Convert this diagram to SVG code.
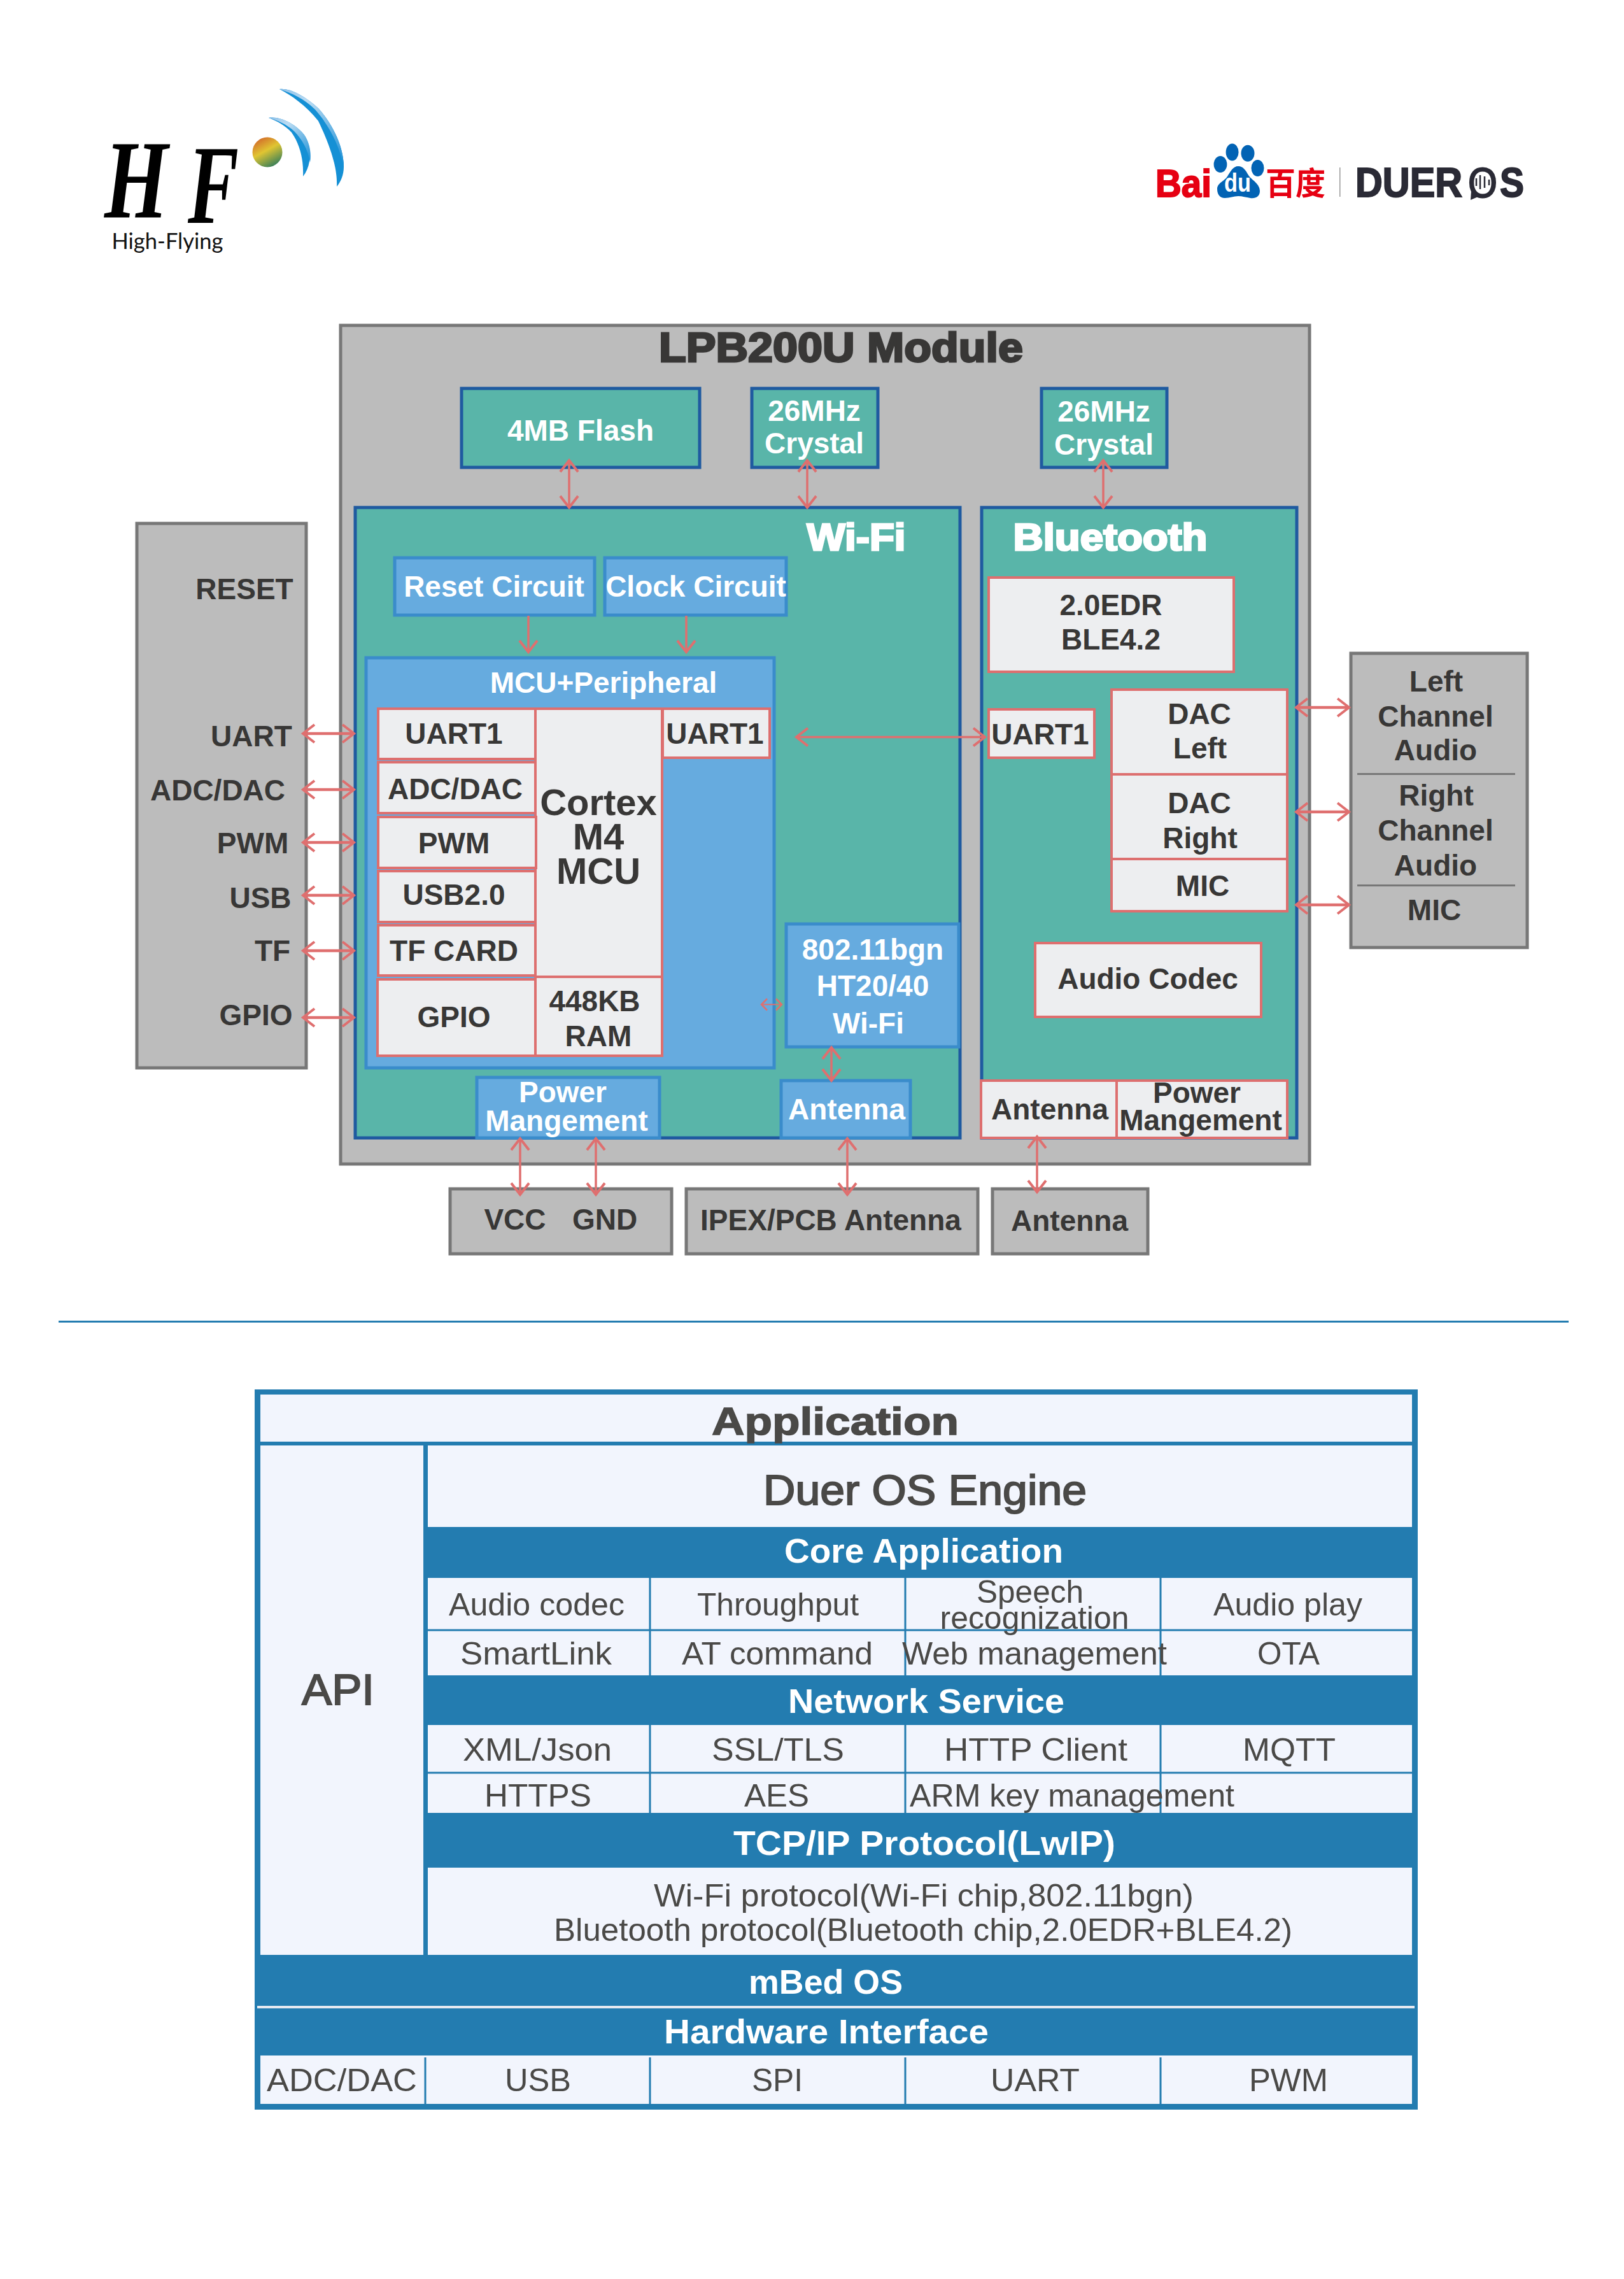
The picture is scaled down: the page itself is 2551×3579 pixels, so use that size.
<svg xmlns="http://www.w3.org/2000/svg" width="2551" height="3579" viewBox="0 0 2551 3579">
<style>
text{font-family:"Liberation Sans",Arial,sans-serif;text-anchor:middle}
.g{fill:#bcbcbc;stroke:#777;stroke-width:5}
.t{fill:#59b5a9;stroke:#1f5aa0;stroke-width:5}
.b{fill:#66abdf;stroke:#3a8ccb;stroke-width:5}
.w{fill:#edeef0;stroke:#dd6f6f;stroke-width:4}
.k{font-size:46px;font-weight:700;fill:#383736}
.f{font-size:46px;font-weight:700;fill:#fff}
.k2{font-size:58px;font-weight:700;fill:#383736}
.c{fill:#f2f5fd}
.r{font-size:50px;fill:#4a4947}
.h{font-size:54px;font-weight:700;fill:#fff}
.bar{fill:#237cb0}
.v{stroke:#237cb0;stroke-width:3;fill:none}
.a{fill:none;stroke:#df6f6f;stroke-width:3.5;marker-start:url(#m);marker-end:url(#m)}
.a1{fill:none;stroke:#df6f6f;stroke-width:3.5;marker-end:url(#m)}
.a2{fill:none;stroke:#df6f6f;stroke-width:2;marker-start:url(#s);marker-end:url(#s)}
.h5{stroke-width:4.5}
.logo{font-weight:700;font-size:65px;fill:#2a2a35;stroke:#2a2a35;stroke-width:2}
.hf{font-family:"Liberation Serif",serif;font-style:italic;font-weight:700;font-size:176px;fill:#000}
</style>
<defs>
<marker id="m" markerUnits="userSpaceOnUse" markerWidth="44" markerHeight="44" viewBox="-22 -22 44 44" refX="0" refY="0" orient="auto-start-reverse"><path d="M-18,-14 L0,0 L-18,14" fill="none" stroke="#df6f6f" stroke-width="4"/></marker>
<marker id="s" markerUnits="userSpaceOnUse" markerWidth="24" markerHeight="24" viewBox="-12 -12 24 24" refX="0" refY="0" orient="auto-start-reverse"><path d="M-9,-9 L0,0 L-9,9" fill="none" stroke="#df6f6f" stroke-width="2.5"/></marker>
<linearGradient id="ball" x1="0.2" y1="0" x2="0.75" y2="1"><stop offset="0" stop-color="#d2652a"/><stop offset="0.45" stop-color="#e0c532"/><stop offset="1" stop-color="#2c7a5c"/></linearGradient>
<linearGradient id="wave" x1="0" y1="0" x2="1" y2="1"><stop offset="0" stop-color="#8fc0e8"/><stop offset="0.3" stop-color="#bcdcf3"/><stop offset="1" stop-color="#1a8fd6"/></linearGradient>
</defs>
<rect width="2551" height="3579" fill="#fff"/>

<g id="logo-hf">
<text class="hf" x="214" y="342" textLength="100" lengthAdjust="spacingAndGlyphs">H</text>
<text class="hf" x="335" y="350" textLength="80" lengthAdjust="spacingAndGlyphs">F</text>
<circle cx="420" cy="239" r="23.5" fill="url(#ball)"/>
<path d="M439,140 C455,138 478,150 500,170 C520,192 540,228 540,262 C540,275 535,286 529,293 C530,270 524,240 500,190 C480,165 458,150 439,140Z" fill="#1590d5"/>
<path d="M439,140 C455,138 478,150 500,170 C520,192 540,228 540,262 C535,235 520,200 495,172 C478,155 458,146 439,140Z" fill="url(#wave)"/>
<path d="M422,185 C440,182 465,195 478,212 C490,230 490,260 476,277 C477,252 472,228 458,208 C448,197 435,190 422,185Z" fill="#1590d5"/>
<path d="M422,185 C440,182 465,195 478,212 C488,226 489,245 487,255 C484,235 474,218 462,206 C450,195 436,189 422,185Z" fill="url(#wave)"/>
<text x="263" y="391" style="font-family:Lato,sans-serif;font-size:34px;fill:#111" textLength="175" lengthAdjust="spacingAndGlyphs">High-Flying</text>
</g>

<g id="logo-baidu">
<text x="1859" y="309" style="font-size:62px;font-weight:700;fill:#e60012;stroke:#e60012;stroke-width:2" textLength="88" lengthAdjust="spacingAndGlyphs">Bai</text>
<ellipse cx="1917" cy="258" rx="10.4" ry="13" fill="#0263b4"/>
<ellipse cx="1935.600" cy="239" rx="10" ry="13.500" fill="#0263b4"/>
<ellipse cx="1960" cy="240.700" rx="10.500" ry="13" fill="#0263b4"/>
<ellipse cx="1975.500" cy="264" rx="10" ry="13" fill="#0263b4"/>
<path d="M1945,261 C1953,261 1957,268 1961,275 C1966,283 1979,288 1979,300 C1979,309 1972,312 1964,311 C1957,310 1952,308 1945,308 C1938,308 1932,311 1924,311 C1916,311 1912,305 1912,297 C1912,287 1923,285 1928,277 C1933,269 1937,261 1945,261Z" fill="#0263b4"/>
<text x="1944" y="301" style="font-size:40px;font-weight:700;fill:#fff" textLength="42" lengthAdjust="spacingAndGlyphs">du</text>
<text x="2035" y="306" style="font-family:'Noto Sans CJK SC',sans-serif;font-size:50px;font-weight:700;fill:#e60012" textLength="94" lengthAdjust="spacingAndGlyphs">百度</text>
<rect x="2104" y="263" width="1.500" height="46" fill="#999"/>
<text class="logo" x="2213" y="309" textLength="168" lengthAdjust="spacingAndGlyphs">DUER</text>
<text class="logo" x="2329" y="310" style="font-weight:400;font-size:66px" textLength="46" lengthAdjust="spacingAndGlyphs">O</text>
<text class="logo" x="2375" y="309" textLength="38" lengthAdjust="spacingAndGlyphs">S</text>
<path d="M2319,280v12M2325,275v22M2332,277v18M2339,282v9" stroke="#2a2a35" stroke-width="2.500" fill="none"/>
<path d="M2311,300 L2310,314 L2324,308Z" fill="#2a2a35"/>
</g>

<g id="pins-left"><rect class="g" x="215" y="822" width="266" height="855"/>
<text class="k" x="384" y="941">RESET</text><text class="k" x="395" y="1172">UART</text><text class="k" x="342" y="1257">ADC/DAC</text><text class="k" x="397" y="1340">PWM</text><text class="k" x="409" y="1426">USB</text><text class="k" x="428" y="1509">TF</text><text class="k" x="402" y="1610">GPIO</text></g>

<g id="module"><rect class="g" x="535" y="511" width="1522" height="1317"/>
<text class="k" x="1321" y="568" style="font-size:64px;stroke:#383736;stroke-width:3" textLength="572" lengthAdjust="spacingAndGlyphs">LPB200U Module</text></g>

<g id="flash"><rect class="t" x="725" y="610" width="374" height="124"/><text class="f" x="912" y="692">4MB Flash</text></g>
<g id="crystal-wifi"><rect class="t" x="1181" y="610" width="198" height="124"/><text class="f" x="1279" y="661">26MHz</text><text class="f" x="1279" y="712">Crystal</text></g>
<g id="crystal-bt"><rect class="t" x="1636" y="610" width="197" height="124"/><text class="f" x="1734" y="662">26MHz</text><text class="f" x="1734" y="714">Crystal</text></g>

<g id="wifi"><rect class="t" x="558" y="797" width="950" height="990"/><text class="f" x="1345" y="864" style="font-size:60px;stroke:#fff;stroke-width:3" textLength="155" lengthAdjust="spacingAndGlyphs">Wi-Fi</text></g>
<g id="bluetooth"><rect class="t" x="1542" y="797" width="495" height="990"/><text class="f" x="1744" y="864" style="font-size:60px;stroke:#fff;stroke-width:3" textLength="305" lengthAdjust="spacingAndGlyphs">Bluetooth</text></g>

<g id="reset-circuit"><rect class="b" x="620" y="876" width="314" height="90"/><text class="f" x="776" y="937">Reset Circuit</text></g>
<g id="clock-circuit"><rect class="b" x="950" y="876" width="285" height="90"/><text class="f" x="1093" y="937">Clock Circuit</text></g>

<g id="mcu"><rect class="b" x="575" y="1033" width="641" height="644"/><text class="f" x="948" y="1088">MCU+Peripheral</text></g>
<g id="cortex"><rect class="w" x="841" y="1113" width="199" height="421"/><text class="k2" x="940" y="1280">Cortex</text><text class="k2" x="940" y="1334">M4</text><text class="k2" x="940" y="1388">MCU</text></g>
<g id="ram"><rect class="w" x="841" y="1534" width="199" height="124"/><text class="k" x="934" y="1588">448KB</text><text class="k" x="940" y="1643">RAM</text></g>
<g id="uart1-l"><rect class="w" x="594" y="1113" width="247" height="79"/><text class="k" x="713" y="1168">UART1</text></g>
<g id="uart1-r"><rect class="w" x="1041" y="1113" width="168" height="77"/><text class="k" x="1123" y="1168">UART1</text></g>
<g id="adc"><rect class="w" x="594" y="1197" width="247" height="80"/><text class="k" x="715" y="1255">ADC/DAC</text></g>
<g id="pwm"><rect class="w" x="594" y="1283" width="248" height="80"/><text class="k" x="713" y="1340">PWM</text></g>
<g id="usb"><rect class="w" x="594" y="1368" width="247" height="80"/><text class="k" x="713" y="1421">USB2.0</text></g>
<g id="tf"><rect class="w" x="594" y="1453" width="247" height="79"/><text class="k" x="713" y="1509">TF CARD</text></g>
<g id="gpio"><rect class="w" x="593" y="1538" width="248" height="120"/><text class="k" x="713" y="1613">GPIO</text></g>

<g id="wifi-radio"><rect class="b" x="1235" y="1451" width="271" height="193"/><text class="f" x="1371" y="1507">802.11bgn</text><text class="f" x="1371" y="1564">HT20/40</text><text class="f" x="1364" y="1623">Wi-Fi</text></g>
<g id="wifi-power"><rect class="b" x="749" y="1692" width="287" height="95"/><text class="f" x="884" y="1731">Power</text><text class="f" x="890" y="1776">Mangement</text></g>
<g id="wifi-antenna"><rect class="b" x="1227" y="1697" width="203" height="90"/><text class="f" x="1330" y="1758">Antenna</text></g>

<g id="bt-core"><rect class="w" x="1553" y="907" width="385" height="148"/><text class="k" x="1745" y="966">2.0EDR</text><text class="k" x="1745" y="1020">BLE4.2</text></g>
<g id="bt-uart"><rect class="w" x="1553" y="1114" width="166" height="76"/><text class="k" x="1634" y="1169">UART1</text></g>
<g id="dac-left"><rect class="w" x="1746" y="1083" width="276" height="133"/><text class="k" x="1884" y="1137">DAC</text><text class="k" x="1885" y="1191">Left</text></g>
<g id="dac-right"><rect class="w" x="1746" y="1216" width="276" height="133"/><text class="k" x="1884" y="1277">DAC</text><text class="k" x="1885" y="1332">Right</text></g>
<g id="bt-mic"><rect class="w" x="1746" y="1349" width="276" height="82"/><text class="k" x="1889" y="1407">MIC</text></g>
<g id="codec"><rect class="w" x="1626" y="1481" width="355" height="116"/><text class="k" x="1803" y="1553">Audio Codec</text></g>
<g id="bt-antenna"><rect class="w" x="1541" y="1697" width="213" height="90"/><text class="k" x="1649" y="1758">Antenna</text></g>
<g id="bt-power"><rect class="w" x="1754" y="1697" width="268" height="90"/><text class="k" x="1880" y="1732">Power</text><text class="k" x="1886" y="1775">Mangement</text></g>

<g id="audio-out"><rect class="g" x="2122" y="1026" width="277" height="462"/>
<text class="k" x="2256" y="1086">Left</text><text class="k" x="2255" y="1141">Channel</text><text class="k" x="2255" y="1194">Audio</text>
<rect x="2132" y="1214" width="248" height="3" fill="#777"/>
<text class="k" x="2256" y="1265">Right</text><text class="k" x="2255" y="1320">Channel</text><text class="k" x="2255" y="1375">Audio</text>
<rect x="2132" y="1389" width="248" height="3" fill="#777"/>
<text class="k" x="2253" y="1445">MIC</text></g>

<g id="power-pins"><rect class="g" x="707" y="1867" width="348" height="102"/><text class="k" x="809" y="1931">VCC</text><text class="k" x="950" y="1931">GND</text></g>
<g id="ipex"><rect class="g" x="1078" y="1867" width="458" height="102"/><text class="k" x="1305" y="1932">IPEX/PCB Antenna</text></g>
<g id="antenna-ext"><rect class="g" x="1559" y="1867" width="244" height="102"/><text class="k" x="1680" y="1933">Antenna</text></g>

<g id="connectors">
<path class="a" d="M894,723V797"/><path class="a" d="M1268,723V797"/><path class="a" d="M1733,723V797"/>
<path class="a1" d="M830,967V1024"/><path class="a1" d="M1078,967V1024"/>
<path class="a h5" d="M476,1152H556"/><path class="a h5" d="M476,1240H556"/><path class="a h5" d="M476,1323H556"/><path class="a h5" d="M476,1406H556"/><path class="a h5" d="M476,1493H556"/><path class="a h5" d="M476,1598H556"/>
<path class="a" d="M1251,1157.500H1547"/>
<path class="a2" d="M1196,1577.500H1228"/>
<path class="a" d="M1306,1645V1697"/>
<path class="a" d="M817,1788V1876"/><path class="a" d="M936,1788V1876"/><path class="a" d="M1331,1788V1876"/><path class="a" d="M1629,1785V1872"/>
<path class="a h5" d="M2036,1111H2119"/><path class="a h5" d="M2036,1275H2119"/><path class="a h5" d="M2036,1421H2119"/>
</g>

<rect id="separator" x="92" y="2074" width="2372" height="3" fill="#237cb0"/>

<g id="stack">
<rect class="bar" x="400" y="2182" width="1827" height="1131"/>
<g id="application"><rect class="c" x="409" y="2190" width="1809" height="74"/><text x="1312" y="2253" class="r" style="font-size:62px;font-weight:700;stroke:#4a4947;stroke-width:1.500" textLength="388" lengthAdjust="spacingAndGlyphs">Application</text></g>
<g id="api"><rect class="c" x="409" y="2270" width="256" height="800"/><text x="531" y="2677" class="r" style="font-size:68px;font-weight:400;stroke:#4a4947;stroke-width:2" textLength="114" lengthAdjust="spacingAndGlyphs">API</text></g>
<g id="duer"><rect class="c" x="672" y="2270" width="1546" height="128"/><text x="1453" y="2363" class="r" style="font-size:66px;font-weight:400;stroke:#4a4947;stroke-width:2" textLength="508" lengthAdjust="spacingAndGlyphs">Duer OS Engine</text></g>
<text class="h" x="1451" y="2454" textLength="438" lengthAdjust="spacingAndGlyphs">Core Application</text>
<g id="core-cells"><rect class="c" x="672" y="2478" width="1546" height="153"/>
<path class="v" d="M672,2560H2218M1021,2478V2631M1422,2478V2631M1823,2478V2631"/>
<text class="r" x="843" y="2537" textLength="276" lengthAdjust="spacingAndGlyphs">Audio codec</text><text class="r" x="1222" y="2537" textLength="254" lengthAdjust="spacingAndGlyphs">Throughput</text><text class="r" x="1618" y="2517" textLength="168" lengthAdjust="spacingAndGlyphs">Speech</text><text class="r" x="1625" y="2558" textLength="297" lengthAdjust="spacingAndGlyphs">recognization</text><text class="r" x="2023" y="2537" textLength="234" lengthAdjust="spacingAndGlyphs">Audio play</text>
<text class="r" x="842" y="2614" textLength="238" lengthAdjust="spacingAndGlyphs">SmartLink</text><text class="r" x="1221" y="2614" textLength="300" lengthAdjust="spacingAndGlyphs">AT command</text><text class="r" x="1625" y="2614" textLength="416" lengthAdjust="spacingAndGlyphs">Web management</text><text class="r" x="2024" y="2614" textLength="98" lengthAdjust="spacingAndGlyphs">OTA</text></g>
<text class="h" x="1455" y="2690" textLength="434" lengthAdjust="spacingAndGlyphs">Network Service</text>
<g id="net-cells"><rect class="c" x="672" y="2709" width="1546" height="138"/>
<path class="v" d="M672,2784H2218M1021,2709V2847M1422,2709V2847M1823,2709V2847"/>
<text class="r" x="844" y="2765" textLength="234" lengthAdjust="spacingAndGlyphs">XML/Json</text><text class="r" x="1222" y="2765" textLength="208" lengthAdjust="spacingAndGlyphs">SSL/TLS</text><text class="r" x="1627" y="2765" textLength="288" lengthAdjust="spacingAndGlyphs">HTTP Client</text><text class="r" x="2025" y="2765" textLength="146" lengthAdjust="spacingAndGlyphs">MQTT</text>
<text class="r" x="845" y="2837" textLength="168" lengthAdjust="spacingAndGlyphs">HTTPS</text><text class="r" x="1220" y="2837" textLength="102" lengthAdjust="spacingAndGlyphs">AES</text><text class="r" x="1684" y="2837" textLength="510" lengthAdjust="spacingAndGlyphs">ARM key management</text></g>
<text class="h" x="1452" y="2913" textLength="600" lengthAdjust="spacingAndGlyphs">TCP/IP Protocol(LwIP)</text>
<g id="protocol"><rect class="c" x="672" y="2933" width="1546" height="137"/>
<text class="r" x="1451" y="2994" textLength="848" lengthAdjust="spacingAndGlyphs">Wi-Fi protocol(Wi-Fi chip,802.11bgn)</text><text class="r" x="1450" y="3048" textLength="1160" lengthAdjust="spacingAndGlyphs">Bluetooth protocol(Bluetooth chip,2.0EDR+BLE4.2)</text></g>
<text class="h" x="1297" y="3131" textLength="242" lengthAdjust="spacingAndGlyphs">mBed OS</text>
<rect x="404" y="3150" width="1818" height="4" fill="#e4e9f0"/>
<text class="h" x="1298" y="3209" textLength="510" lengthAdjust="spacingAndGlyphs">Hardware Interface</text>
<g id="interfaces"><rect class="c" x="409" y="3228" width="1809" height="76"/>
<path class="v" d="M668,3231V3304M1021,3231V3304M1422,3231V3304M1823,3231V3304"/>
<text class="r" x="537" y="3284" textLength="236" lengthAdjust="spacingAndGlyphs">ADC/DAC</text><text class="r" x="845" y="3284" textLength="104" lengthAdjust="spacingAndGlyphs">USB</text><text class="r" x="1221" y="3284" textLength="80" lengthAdjust="spacingAndGlyphs">SPI</text><text class="r" x="1626" y="3284" textLength="140" lengthAdjust="spacingAndGlyphs">UART</text><text class="r" x="2024" y="3284" textLength="124" lengthAdjust="spacingAndGlyphs">PWM</text></g>
</g>
</svg>
